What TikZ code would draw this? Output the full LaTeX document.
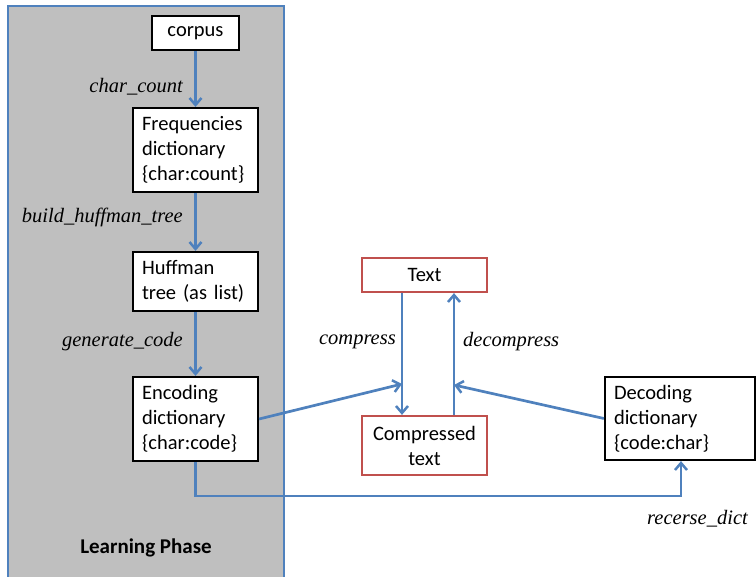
\documentclass[tikz,border=0pt]{standalone}
\usepackage{fontspec}
\setmainfont{Carlito}
\newfontfamily\labelfont{Liberation Serif}
\usetikzlibrary{arrows.meta}
\usetikzlibrary{positioning}

\definecolor{flowblue}{HTML}{4F81BD}
\definecolor{boxred}{HTML}{C0504D}
\definecolor{phasegray}{HTML}{BFBFBF}

\tikzset{
  databox/.style={draw=black, line width=2.2pt, fill=white, minimum width=125pt,
    text width=107pt, align=left, inner sep=0pt,
    font=\fontsize{20.5}{25}\selectfont},
  textbox/.style={databox, draw=boxred, align=center},
  flow/.style={draw=flowblue, line width=2.7pt,
    -{Straight Barb[length=7pt,width=12pt,line width=2.5pt]}},
  fname/.style={font=\labelfont\itshape\fontsize{20.5}{24}\selectfont, inner sep=0pt},
}

\begin{document}
\begin{tikzpicture}[x=1pt, y=-1pt]
        \useasboundingbox (0,0) rectangle (756,577);
        % learning phase panel
        \fill[phasegray] (8,6) rectangle (284,577);
        \draw[flowblue, line width=2.5pt] (8,577) -- (8,6) -- (284,6) -- (284,577);
        \node[font=\bfseries\fontsize{21}{25}\selectfont] (phase) at (146,548) {Learning Phase};

        \node[databox, align=center, minimum width=87pt, text width=75pt, minimum height=34pt] (corpus) at (195.5,33) {corpus};
        \node[databox, minimum height=84pt] (freq) at (195.5,150) {Frequencies\\dictionary\\\{char:count\}};
        \node[databox, minimum height=59pt] (tree) at (195.5,281.5) {Huffman\\tree (as list)};
        \node[databox, minimum height=84pt] (enc) at (195.5,419) {Encoding\\dictionary\\\{char:code\}};

        \node[textbox, minimum height=34pt] (text) at (424.5,275) {Text};
        \node[textbox, minimum height=59pt] (comp) at (424.5,445.5) {Compressed\\text};
        \node[databox, minimum width=150pt, text width=132pt, minimum height=83pt] (dec) at (680,418.5) {Decoding\\dictionary\\\{code:char\}};

        \coordinate (cin) at (402,384);
        \coordinate (dout) at (454,385);

        \draw[flow] (corpus) -- (freq);
        \draw[flow] (freq) -- (tree);
        \draw[flow] (tree) -- (enc);
        \draw[flow] (text.south -| cin) -- (comp.north -| cin);
        \draw[flow] (comp.north -| dout) -- (text.south -| dout);
        \draw[flow] (enc.east) -- (cin);
        \draw[flow] (dec.west) -- (dout);
        \draw[flow] (enc.south) |- (681,496) -- (dec.south -| 681,0);

        \node[fname, anchor=east] (lcount) at (183,87) {char\_count};
        \node[fname, anchor=east] (lbuild) at (183,217) {build\_huffman\_tree};
        \node[fname, anchor=east] (lgen) at (183,342) {generate\_code};
        \node[fname, anchor=east] (lcomp) at (396,342) {compress};
        \node[fname, anchor=west] (ldecomp) at (463,342) {decompress};
        \node[fname, anchor=east] (lrev) at (748,519) {recerse\_dict};
\end{tikzpicture}
\end{document}
